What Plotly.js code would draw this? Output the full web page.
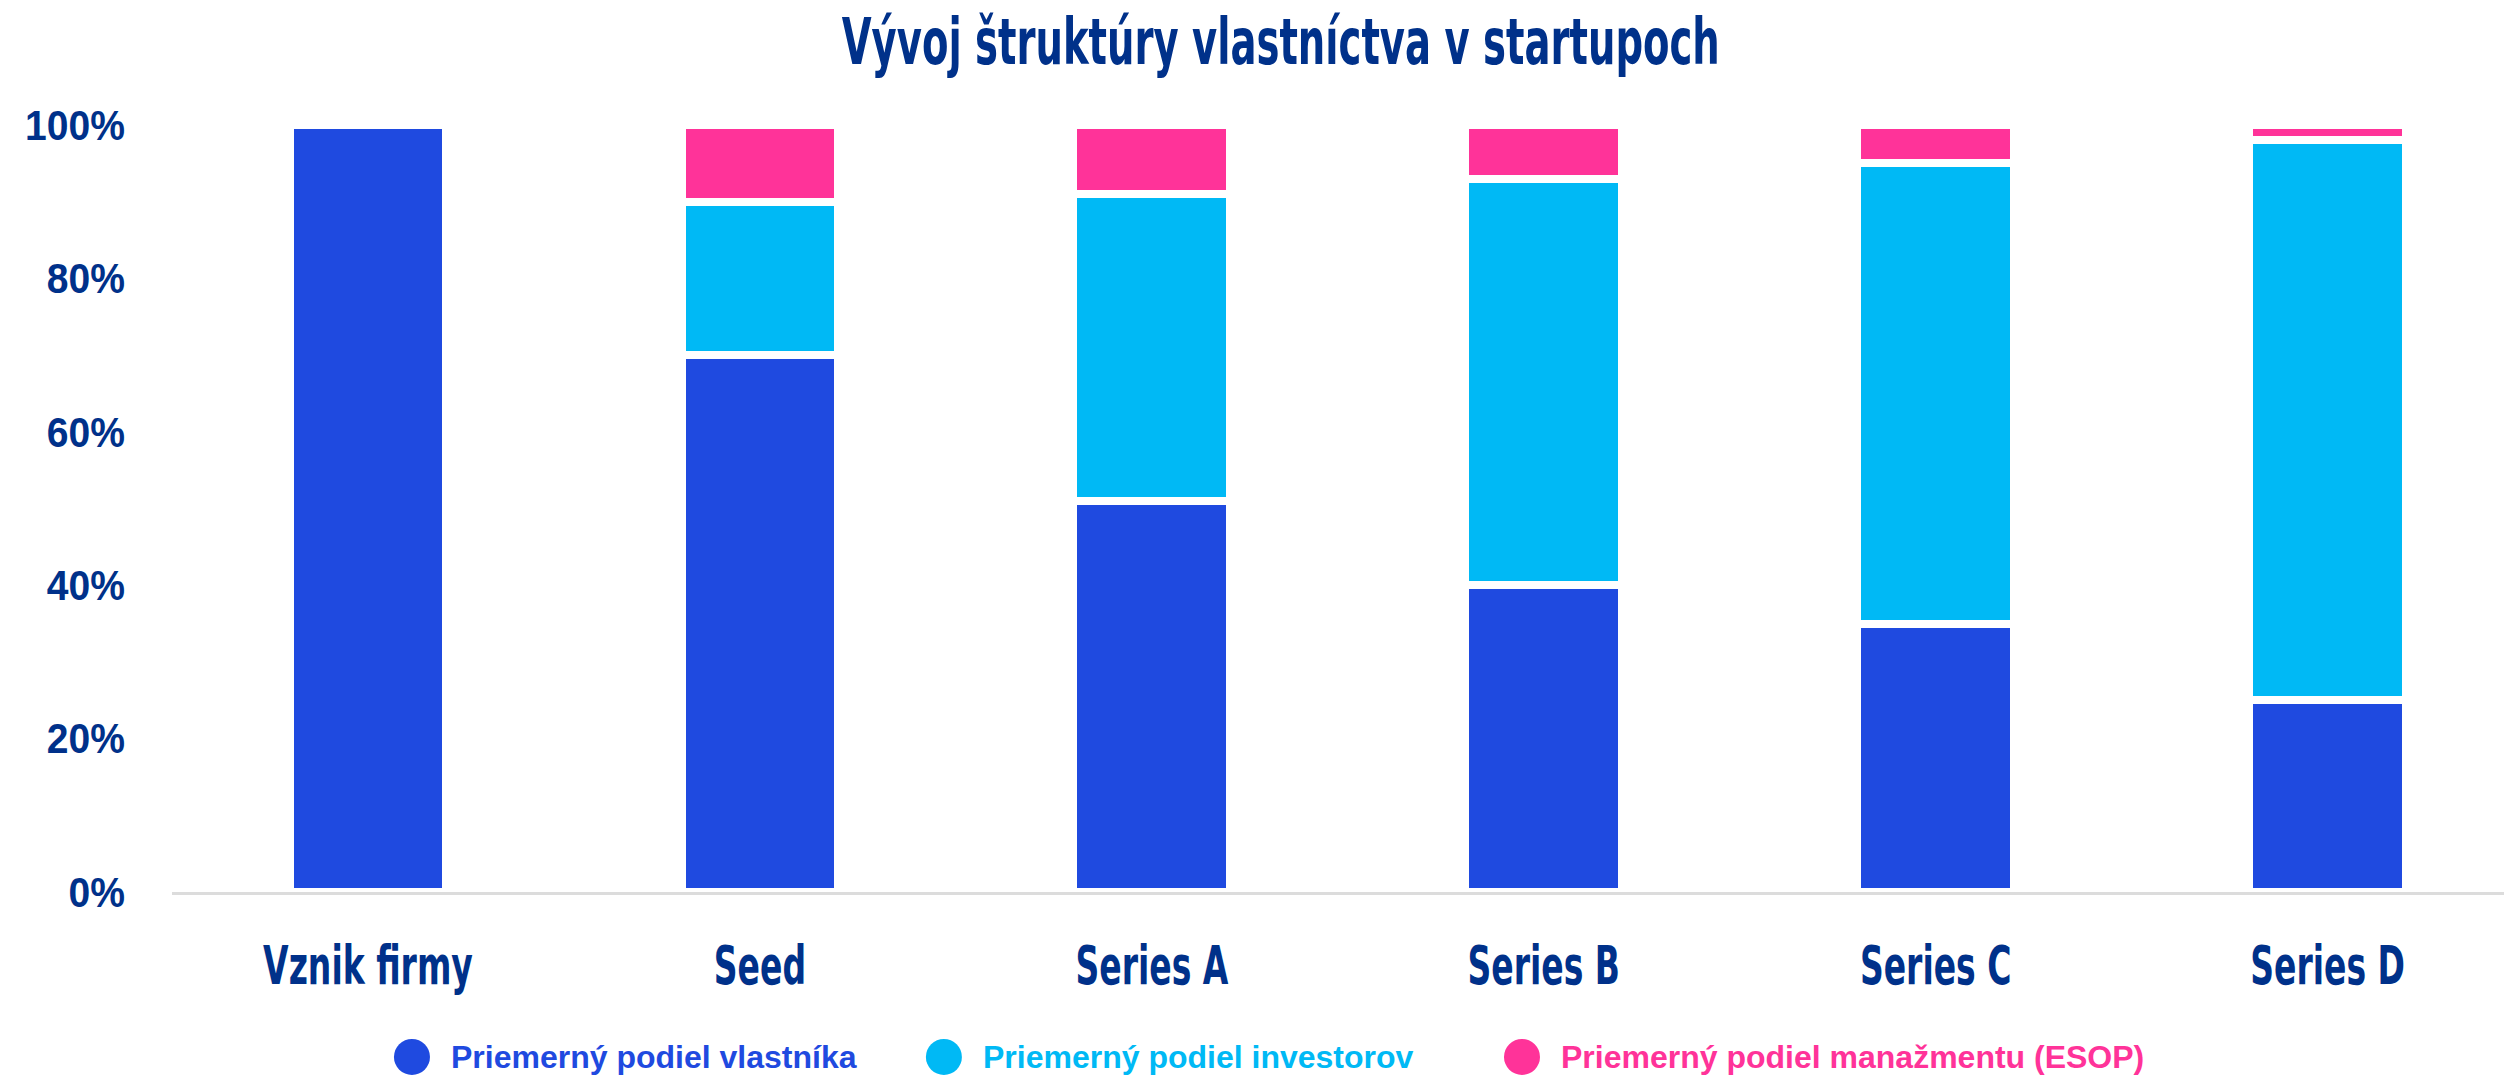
<!DOCTYPE html>
<html>
<head>
<meta charset="utf-8">
<script src="https://cdn.plot.ly/plotly-3.0.1.min.js"></script>
<style>
  html, body { margin: 0; padding: 0; background: #ffffff; }
  #chart { width: 2504px; height: 1078px; }
</style>
</head>
<body>
<div id="chart"></div>
<script>
// ---- Data ----
const categories = ["Vznik firmy", "Seed", "Series A", "Series B", "Series C", "Series D"];
const ownerShare = [100, 70, 51, 40, 35, 25];
const investorShare = [0, 20, 40, 53, 60, 73];
const esopShare = [0, 10, 9, 7, 5, 2];
const seriesNames = ["Priemerný podiel vlastníka", "Priemerný podiel investorov", "Priemerný podiel manažmentu (ESOP)"];
const yTickVals = [0, 20, 40, 60, 80, 100];
const yTickText = ["0%", "20%", "40%", "60%", "80%", "100%"];
const chartTitle = "Vývoj štruktúry vlastníctva v startupoch";

// ---- Styles ----
const colors = ["#1f4ae0", "#00b9f5", "#ff3399"];
const navy = "#00318a";
const condensed = "'DejaVu Sans Condensed', 'Liberation Sans Narrow', sans-serif";
const boldSans = "'Liberation Sans', Arial, sans-serif";

const seriesValues = [ownerShare, investorShare, esopShare];
const traces = seriesValues.map((vals, i) => ({
  type: "bar",
  x: categories,
  y: vals,
  name: seriesNames[i],
  marker: { color: colors[i], line: { color: "#ffffff", width: 8 } },
  hoverinfo: "skip",
  showlegend: false
}));

// Legend built as circles + coloured labels
const legendCircleX = [0.1029, 0.3310, 0.5789];
const legendTextX = [0.1188, 0.3469, 0.5948];
const legendY = -0.215;
const shapes = seriesNames.map((n, i) => ({
  type: "circle",
  xref: "paper", yref: "paper",
  xsizemode: "pixel", ysizemode: "pixel",
  xanchor: legendCircleX[i], yanchor: legendY,
  x0: -18, x1: 18, y0: -18, y1: 18,
  fillcolor: colors[i],
  line: { width: 0 }
}));
const annotations = seriesNames.map((n, i) => ({
  xref: "paper", yref: "paper",
  x: legendTextX[i], y: legendY,
  xanchor: "left", yanchor: "middle",
  text: n,
  showarrow: false,
  font: { family: boldSans, size: 32, weight: "bold", color: colors[i] }
}));

const layout = {
  width: 2504,
  height: 1078,
  paper_bgcolor: "#ffffff",
  plot_bgcolor: "#ffffff",
  margin: { l: 172, r: 0, t: 125, b: 186 },
  barmode: "stack",
  bargap: 0.6,
  title: {
    text: chartTitle,
    x: 0.5115, xanchor: "center",
    y: 0.982, yanchor: "top",
    font: { family: condensed, size: 64, weight: "bold", color: navy }
  },
  xaxis: {
    type: "category",
    range: [-0.5, 5.45],
    showgrid: false,
    zeroline: false,
    showline: true,
    linecolor: "#dcdcdc",
    linewidth: 3,
    ticks: "",
    ticklabelstandoff: 24,
    tickfont: { family: condensed, size: 54, weight: "bold", color: navy },
    fixedrange: true
  },
  yaxis: {
    range: [0, 100],
    tickvals: yTickVals,
    ticktext: yTickText,
    showgrid: false,
    zeroline: false,
    showline: false,
    ticks: "",
    ticklabelstandoff: 46,
    tickfont: { family: boldSans, size: 42, weight: "bold", color: navy },
    fixedrange: true
  },
  shapes: shapes,
  annotations: annotations,
  showlegend: false
};

// Horizontal squeeze of text to imitate the condensed display font
function squeeze(selector, sx, anchor) {
  document.querySelectorAll(selector).forEach(el => {
    const bb = el.getBBox();
    const ax = anchor === "right" ? bb.x + bb.width : anchor === "left" ? bb.x : bb.x + bb.width / 2;
    const prev = el.getAttribute("transform") || "";
    el.setAttribute("transform", prev + " translate(" + ax + ",0) scale(" + sx + ",1) translate(" + (-ax) + ",0)");
  });
}

Plotly.newPlot("chart", traces, layout, { displayModeBar: false, staticPlot: true }).then(() => {
  squeeze("#chart .gtitle", 0.67, "center");
  squeeze("#chart .xtick text", 0.68, "center");
  squeeze("#chart .ytick text", 0.93, "right");
});
</script>
</body>
</html>
